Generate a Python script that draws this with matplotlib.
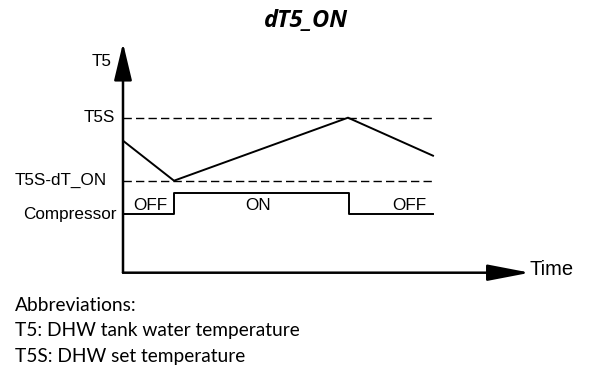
import matplotlib.pyplot as plt

# temperature levels (arbitrary units)
T5S = 15.5
T5S_DT_ON = 9.2

# tank water temperature T5 over time
time_pts = [0, 5.1, 22.5, 31.0]
t5_vals = [13.2, T5S_DT_ON, T5S, 11.7]

# compressor state (steps-post)
comp_time = [0, 5.1, 22.6, 31.0]
OFF_LVL, ON_LVL = 5.9, 8.0
comp_vals = [OFF_LVL, ON_LVL, OFF_LVL, OFF_LVL]
comp_labels = ['OFF', 'ON', 'OFF']
comp_label_x = [2.7, 13.5, 28.6]

abbrev = ['Abbreviations:',
          'T5: DHW tank water temperature',
          'T5S: DHW set temperature']

X_MAX, Y_MAX = 40.7, 22.97
W, H = 590, 367

plt.rcParams['font.family'] = 'Liberation Sans'
fig = plt.figure(figsize=(W / 100, H / 100), dpi=100)
ax = fig.add_axes([123 / W, (H - 272.7) / H, (530 - 123) / W, (272.7 - 43) / H])
ax.set_xlim(0, X_MAX)
ax.set_ylim(0, Y_MAX)
ax.axis('off')

arrow = dict(arrowstyle='-|>,head_length=2.3,head_width=0.55', mutation_scale=10,
             lw=1.8, color='black', shrinkA=0, shrinkB=0)
ax.annotate('', xy=(0, Y_MAX), xytext=(0, 0), arrowprops=arrow, annotation_clip=False)
arrow_x = dict(arrow, arrowstyle='-|>,head_length=2.6,head_width=0.5')
ax.annotate('', xy=(X_MAX, 0), xytext=(0, 0), arrowprops=arrow_x, annotation_clip=False)

ax.hlines([T5S, T5S_DT_ON], 0, time_pts[-1], colors='black', lw=1,
          linestyles=(0, (6, 3)))
ax.plot(time_pts, t5_vals, color='black', lw=1.4, solid_joinstyle='miter')
ax.plot(comp_time, comp_vals, color='black', lw=1.4, drawstyle='steps-post')

fs = 12.3
ax.text(-1.1, 21.07, 'T5', ha='right', va='center', fontsize=fs, clip_on=False)
ax.text(-0.8, T5S, 'T5S', ha='right', va='center', fontsize=fs, clip_on=False)
ax.text(-1.6, T5S_DT_ON, 'T5S-dT_ON', ha='right', va='center', fontsize=fs, clip_on=False)
ax.text(-0.6, 5.77, 'Compressor', ha='right', va='center', fontsize=fs, clip_on=False)
for x, lab in zip(comp_label_x, comp_labels):
    ax.text(x, OFF_LVL + 0.1, lab, ha='center', va='bottom', fontsize=fs)
ax.text(X_MAX, 0.32, 'Time', ha='left', va='center', fontsize=14.5, clip_on=False)

fig.text(306 / W, 1 - 21 / H, 'dT5_ON', ha='center', va='center', fontsize=17,
         fontweight='bold', fontstyle='italic', family='Open Sans')

for i, line in enumerate(abbrev):
    fig.text(15 / W, 1 - (310.7 + 25.5 * i) / H, line, ha='left', va='baseline',
             fontsize=13.8, family='Lato')

fig.savefig('out.png', dpi=100)
